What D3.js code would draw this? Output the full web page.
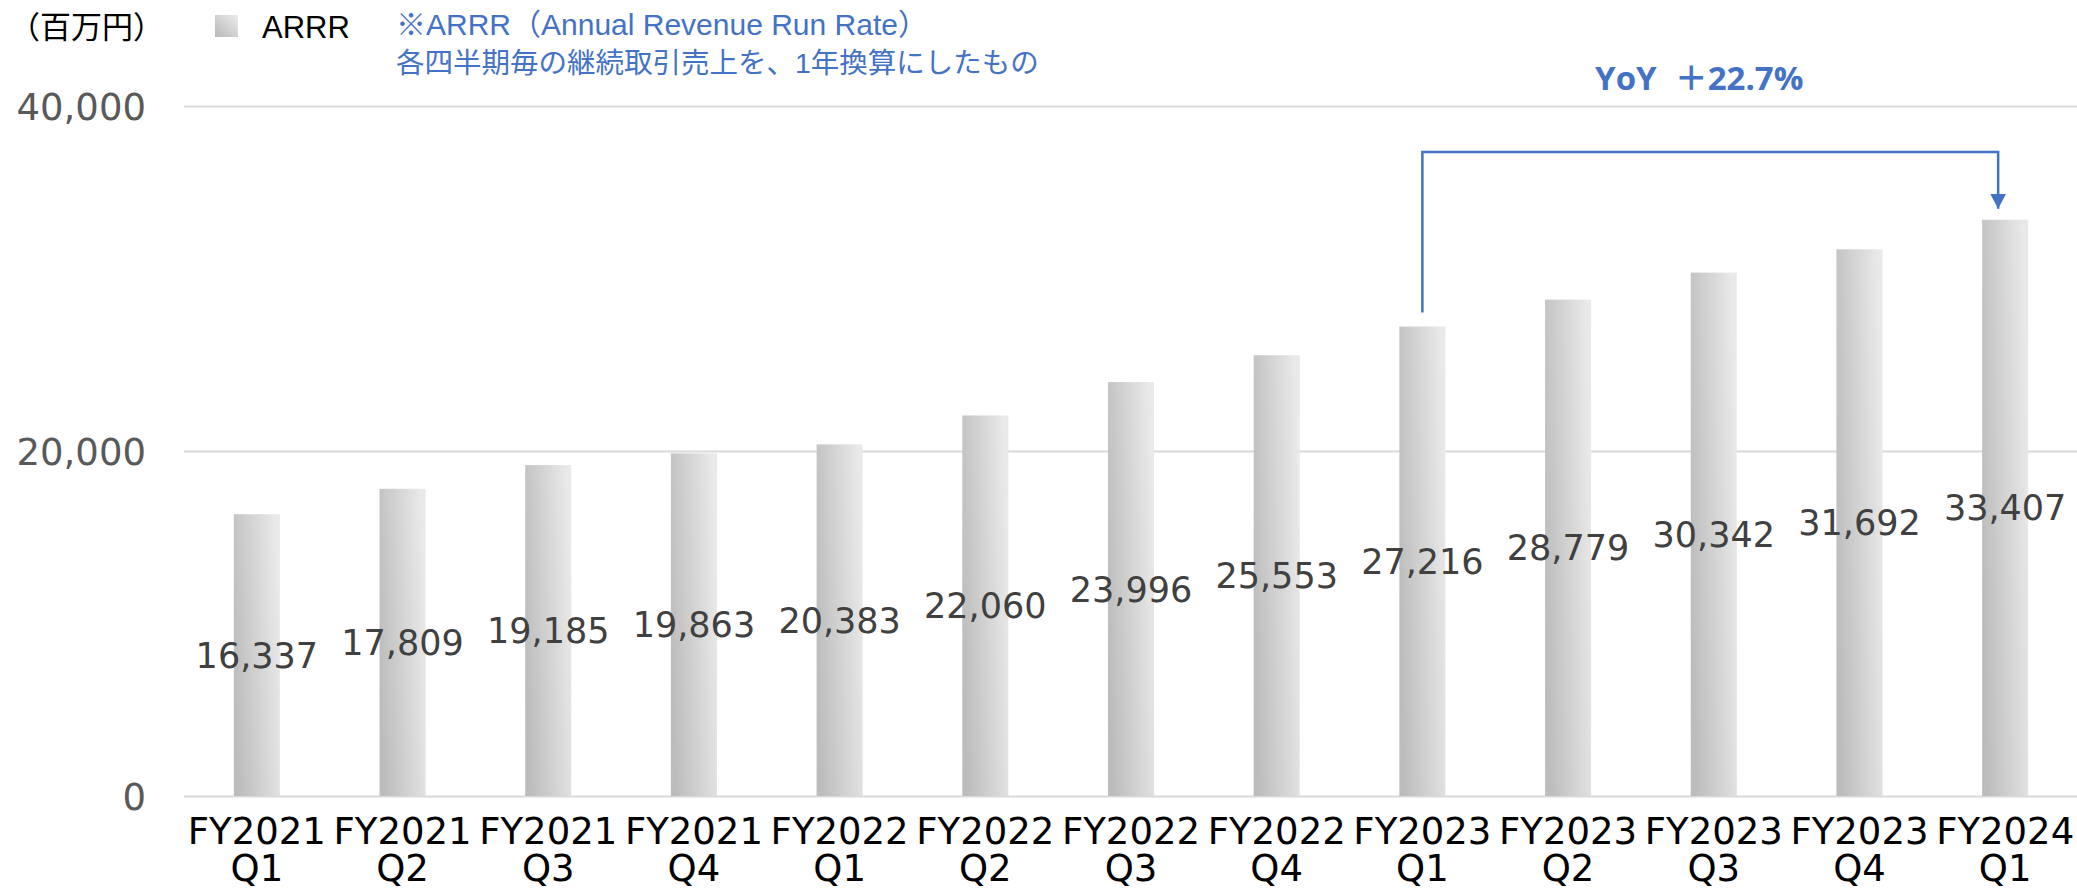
<!DOCTYPE html>
<html>
<head>
<meta charset="utf-8">
<script src="https://cdn.jsdelivr.net/npm/d3@7"></script>
<style>
    body { margin: 0; background: #fff; }
    svg { display: block; }
</style>
</head>
<body>
<svg id="chart" width="2077" height="891"></svg>
<script>
    //////////// DATA ////////////

    var fiscalYears = ["FY2021", "FY2021", "FY2021", "FY2021", "FY2022", "FY2022", "FY2022",
                       "FY2022", "FY2023", "FY2023", "FY2023", "FY2023", "FY2024"];
    var quarters = ["Q1", "Q2", "Q3", "Q4", "Q1", "Q2", "Q3", "Q4", "Q1", "Q2", "Q3", "Q4", "Q1"];
    var arrrValues = [16337, 17809, 19185, 19863, 20383, 22060, 23996, 25553, 27216, 28779, 30342, 31692, 33407];
    var yTicks = [0, 20000, 40000];

    var unitLabel = "（百万円）";
    var seriesName = "ARRR";
    var noteLines = ["※ARRR（Annual Revenue Run Rate）", "各四半期毎の継続取引売上を、1年換算にしたもの"];
    var yoyFrom = 8, yoyTo = 12;   // FY2023 Q1 -> FY2024 Q1
    var yoyLabel = "YoY", yoyValue = "＋22.7%";

    var categories = fiscalYears.map(function (d, i) { return i; });

    //////////// SETUP ////////////

    var svg = d3.select("#chart"),
        width = 2077,
        height = 891;

    var plotLeft = 184, plotRight = 2078, plotTop = 106, plotBottom = 796;
    var blue = "#4472C4";
    var numFont = "'DejaVu Sans', Verdana, sans-serif";
    var jpFont = "'Liberation Sans', Arial, 'Noto Sans CJK JP', sans-serif";

    var x = d3.scaleBand()
        .domain(categories)
        .range([plotLeft, plotRight])
        .paddingInner(0.684)
        .paddingOuter(0.342);

    var y = d3.scaleLinear()
        .domain([0, 40000])
        .range([plotBottom, plotTop]);

    // bar gradient: darker bottom-left, light top-right
    var defs = svg.append("defs");
    var grad = defs.append("linearGradient")
        .attr("id", "barGrad")
        .attr("x1", 0).attr("y1", 0.65)
        .attr("x2", 1).attr("y2", 0.35);
    grad.append("stop").attr("offset", "0%").attr("stop-color", "#bcbcbc");
    grad.append("stop").attr("offset", "100%").attr("stop-color", "#e9e9e9");

    var swatchGrad = defs.append("linearGradient")
        .attr("id", "swatchGrad")
        .attr("x1", 0).attr("y1", 1)
        .attr("x2", 1).attr("y2", 0);
    swatchGrad.append("stop").attr("offset", "0%").attr("stop-color", "#b8b8b8");
    swatchGrad.append("stop").attr("offset", "100%").attr("stop-color", "#ececec");

    defs.append("marker")
        .attr("id", "arrow")
        .attr("markerUnits", "userSpaceOnUse")
        .attr("viewBox", "0 0 16 15")
        .attr("markerWidth", 16)
        .attr("markerHeight", 15)
        .attr("refX", 8)
        .attr("refY", 15)
        .attr("orient", 0)
        .append("path")
        .attr("d", "M0,0 L16,0 L8,15 Z")
        .attr("fill", blue);

    //////////// AXES ////////////

    // y axis with gridlines
    var yAxis = svg.append("g")
        .attr("transform", "translate(" + plotLeft + ",0)")
        .call(d3.axisLeft(y)
            .tickValues(yTicks)
            .tickSize(-(width - plotLeft))
            .tickPadding(38)
            .tickFormat(d3.format(",")));
    yAxis.select(".domain").remove();
    yAxis.selectAll(".tick line")
        .attr("stroke", "#d9d9d9")
        .attr("stroke-width", 2);
    yAxis.selectAll(".tick text")
        .attr("dy", "0.36em")
        .attr("fill", "#595959")
        .style("font-family", numFont)
        .style("font-size", "37px");

    // x axis, two-line category labels
    var xAxis = svg.append("g")
        .attr("transform", "translate(0," + plotBottom + ")")
        .call(d3.axisBottom(x).tickSize(0).tickFormat(""));
    xAxis.select(".domain").remove();
    var tickText = xAxis.selectAll(".tick text")
        .attr("y", 0)
        .attr("dy", 0)
        .attr("fill", "#000")
        .style("font-family", numFont)
        .style("font-size", "37px");
    tickText.append("tspan")
        .attr("x", 0).attr("y", 48)
        .text(function (d) { return fiscalYears[d]; });
    tickText.append("tspan")
        .attr("x", 0).attr("y", 85)
        .text(function (d) { return quarters[d]; });

    //////////// BARS ////////////

    svg.append("g")
        .attr("class", "bars")
        .selectAll("rect")
        .data(arrrValues)
        .enter().append("rect")
        .attr("x", function (d, i) { return x(i); })
        .attr("y", function (d) { return y(d); })
        .attr("width", x.bandwidth())
        .attr("height", function (d) { return y(0) - y(d); })
        .attr("fill", "url(#barGrad)");

    // value labels in the middle of each bar
    svg.append("g")
        .attr("class", "labels")
        .selectAll("text")
        .data(arrrValues)
        .enter().append("text")
        .attr("x", function (d, i) { return x(i) + x.bandwidth() / 2; })
        .attr("y", function (d) { return y(d / 2); })
        .attr("dy", "0.36em")
        .attr("text-anchor", "middle")
        .attr("fill", "#404040")
        .style("font-family", numFont)
        .style("font-size", "35px")
        .text(function (d) { return d3.format(",")(d); });

    //////////// LEGEND / NOTES ////////////

    svg.append("text")
        .attr("x", 9).attr("y", 38)
        .attr("fill", "#000")
        .style("font-family", "'Noto Sans CJK JP', sans-serif")
        .style("font-size", "31px")
        .text(unitLabel);

    svg.append("rect")
        .attr("x", 215).attr("y", 15)
        .attr("width", 23).attr("height", 22)
        .attr("fill", "url(#swatchGrad)");

    svg.append("text")
        .attr("x", 262).attr("y", 38)
        .attr("fill", "#000")
        .style("font-family", jpFont)
        .style("font-size", "31px")
        .text(seriesName);

    svg.append("g")
        .selectAll("text")
        .data(noteLines)
        .enter().append("text")
        .attr("x", 396)
        .attr("y", function (d, i) { return 35 + i * 38; })
        .attr("fill", blue)
        .style("font-family", jpFont)
        .style("font-size", function (d, i) { return i === 0 ? "30px" : "28.5px"; })
        .text(function (d) { return d; });

    //////////// YOY ANNOTATION ////////////

    var xStart = x(yoyFrom) + x.bandwidth() / 2,
        xEnd = x(yoyTo) + x.bandwidth() / 2 - 7,
        bracketTop = y(40000) + 46;

    svg.append("path")
        .attr("d", "M" + xStart + "," + (y(arrrValues[yoyFrom]) - 14) +
            " V" + bracketTop +
            " H" + xEnd +
            " V" + (y(arrrValues[yoyTo]) - 11))
        .attr("fill", "none")
        .attr("stroke", blue)
        .attr("stroke-width", 2.5)
        .attr("marker-end", "url(#arrow)");

    var yoyText = svg.append("text")
        .attr("x", (xStart + xEnd) / 2 - 11)
        .attr("y", 90)
        .attr("text-anchor", "middle")
        .attr("fill", blue)
        .style("font-family", "'Open Sans', 'Noto Sans CJK JP', sans-serif")
        .style("font-size", "33px")
        .style("font-weight", "bold");
    yoyText.append("tspan").text(yoyLabel);
    yoyText.append("tspan").attr("dx", 18).text(yoyValue);
</script>
</body>
</html>
